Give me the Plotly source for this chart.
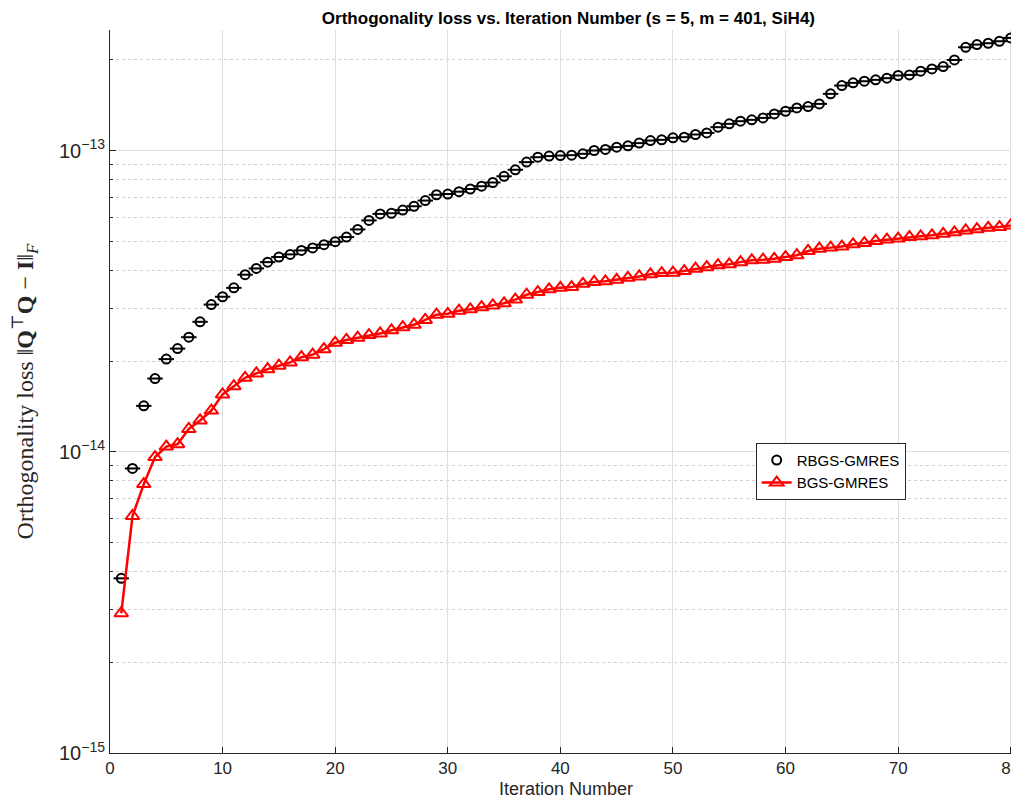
import plotly.graph_objects as go

# values in units of 1e-14
iters = list(range(1, 81))
rbgs = [0.38, 0.88, 1.42, 1.75, 2.03, 2.20, 2.40, 2.70, 3.08, 3.27,
        3.50, 3.87, 4.06, 4.26, 4.43, 4.52, 4.66, 4.75, 4.87, 4.98,
        5.16, 5.47, 5.86, 6.16, 6.19, 6.34, 6.53, 6.82, 7.13, 7.17,
        7.30, 7.45, 7.61, 7.83, 8.21, 8.63, 9.15, 9.50, 9.58, 9.62,
        9.65, 9.75, 10.0, 10.08, 10.26, 10.36, 10.58, 10.79, 10.85, 11.02,
        11.07, 11.30, 11.44, 11.95, 12.26, 12.51, 12.64, 12.83, 13.23, 13.50,
        13.85, 13.99, 14.28, 15.42, 16.43, 16.77, 16.98, 17.16, 17.38, 17.74,
        17.82, 18.33, 18.66, 18.99, 19.98, 22.01, 22.47, 22.70, 23.05, 23.64]
bgs = [0.291, 0.612, 0.781, 0.960, 1.04, 1.06, 1.19, 1.27, 1.37, 1.55,
       1.65, 1.76, 1.82, 1.88, 1.93, 1.98, 2.06, 2.10, 2.19, 2.30,
       2.35, 2.39, 2.44, 2.47, 2.53, 2.59, 2.64, 2.74, 2.85, 2.87,
       2.94, 2.97, 3.02, 3.06, 3.11, 3.20, 3.32, 3.39, 3.46, 3.50,
       3.52, 3.61, 3.66, 3.68, 3.72, 3.78, 3.82, 3.88, 3.92, 3.93,
       3.98, 4.05, 4.10, 4.16, 4.19, 4.26, 4.32, 4.34, 4.37, 4.43,
       4.49, 4.64, 4.72, 4.76, 4.80, 4.88, 4.93, 5.01, 5.06, 5.10,
       5.16, 5.19, 5.23, 5.29, 5.35, 5.43, 5.48, 5.54, 5.57, 5.64]

y_ticks = [1e-15, 1e-14, 1e-13]
y_ticktext = ["10<sup>−15</sup>", "10<sup>−14</sup>", "10<sup>−13</sup>"]
x_ticks = [0, 10, 20, 30, 40, 50, 60, 70, 80]
minor_y = [k * 10.0 ** e for e in (-15, -14, -13) for k in range(2, 10)]

rbgs_y = [v * 1e-14 for v in rbgs]
fig = go.Figure()
fig.add_trace(go.Scatter(
    x=iters, y=rbgs_y, mode="markers", name="RBGS-GMRES",
    marker=dict(symbol="circle-open", size=9, color="black", line=dict(width=2)),
))
# horizontal bar through each circle (zero-length error bar caps)
fig.add_trace(go.Scatter(
    x=iters, y=rbgs_y, mode="markers", showlegend=False, hoverinfo="skip",
    marker=dict(symbol="line-ew", size=11, color="black", line=dict(width=2, color="black")),
))
fig.add_trace(go.Scatter(
    x=iters, y=[v * 1e-14 for v in bgs], mode="lines+markers", name="BGS-GMRES",
    line=dict(color="red", width=2.5),
    marker=dict(symbol="triangle-up-open", size=12, color="red", line=dict(width=2)),
))

axis_common = dict(showline=True, linecolor="#262626", linewidth=1, mirror=False,
                   ticks="inside", ticklen=6, tickcolor="#262626", automargin=False,
                   showgrid=True, gridcolor="#dedede", zeroline=False)

fig.update_layout(
    width=1019, height=801,
    margin=dict(l=102, r=5, t=22, b=56),
    paper_bgcolor="white", plot_bgcolor="white",
    title=dict(text="<b>Orthogonality loss vs. Iteration Number (s = 5, m = 401, SiH4)</b>",
               x=0.55, xanchor="center", y=0.995, yanchor="top",
               font=dict(family="Liberation Sans, Arial", size=17, color="black")),
    xaxis=dict(range=[0, 81], tickvals=x_ticks,
               tickfont=dict(family="Liberation Sans, Arial", size=17, color="#262626"),
               title=dict(text="Iteration Number", standoff=4,
                          font=dict(family="Liberation Sans, Arial", size=18, color="#262626")),
               **axis_common),
    yaxis=dict(type="log", range=[-15, -12.6], tickvals=y_ticks, ticktext=y_ticktext,
               tickfont=dict(family="Liberation Sans, Arial", size=20, color="#262626"),
               minor=dict(tickvals=minor_y, showgrid=True, gridcolor="#cfcfcf", griddash="dot",
                          ticks="inside", ticklen=3, tickcolor="#262626"),
               title=dict(text="Orthogonality loss ‖<b>Q</b><sup>⊤</sup><b>Q</b> − <b>I</b>‖<sub><i>F</i></sub>",
                          standoff=20,
                          font=dict(family="Liberation Serif, DejaVu Serif", size=24, color="#262626")),
               **axis_common),
    legend=dict(x=0.708, y=0.429, xanchor="left", yanchor="top",
                bgcolor="white", bordercolor="#262626", borderwidth=1,
                font=dict(family="Liberation Sans, Arial", size=15, color="black"),
                tracegroupgap=0),
    showlegend=True,
)

fig.write_html("out.html")
